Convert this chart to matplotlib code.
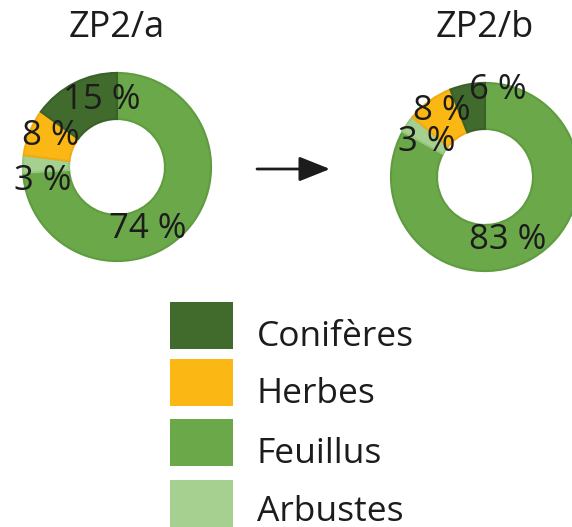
import matplotlib.pyplot as plt
from matplotlib.patches import Rectangle

plt.rcParams['font.family'] = ['Open Sans', 'DejaVu Sans']

# Share of each vegetation type, clockwise from 12 o'clock
categories = ['Feuillus', 'Arbustes', 'Herbes', 'Conifères']
values_a = [74, 3, 8, 15]
values_b = [83, 3, 8, 6]
titles = ['ZP2/a', 'ZP2/b']

legend_order = ['Conifères', 'Herbes', 'Feuillus', 'Arbustes']

colors = {'Conifères': '#416b2c', 'Herbes': '#fbb714',
          'Feuillus': '#6aa84a', 'Arbustes': '#a6d08f'}
edges = {'Conifères': '#3a6127', 'Herbes': '#f0ac10',
         'Feuillus': '#5f9c40', 'Arbustes': '#98c680'}

W, H = 572, 527
TXT = '#1c1c1c'

fig = plt.figure(figsize=(W / 100, H / 100), dpi=100)

# overlay in pixel units for arrow, legend and titles
ov = fig.add_axes([0, 0, 1, 1])
ov.set_xlim(0, W)
ov.set_ylim(H, 0)
ov.axis('off')
ov.set_zorder(3)
ov.patch.set_visible(False)


def donut(values, cx, cy, r, title, label_pos):
    ax = fig.add_axes([(cx - r) / W, 1 - (cy + r) / H, 2 * r / W, 2 * r / H])
    wedges, _ = ax.pie(values, colors=[colors[c] for c in categories],
                       startangle=90, counterclock=False, radius=1,
                       wedgeprops=dict(width=0.49, linewidth=1.5))
    for w, c in zip(wedges, categories):
        w.set_edgecolor(edges[c])
    ax.set_xlim(-1.01, 1.01)
    ax.set_ylim(-1.01, 1.01)
    ax.axis('off')
    ov.text(cx, 28, title, ha='center', va='center', fontsize=26, color=TXT)
    for v, (x, y) in zip(values, label_pos):
        ov.text(x, y, f'{v} %', ha='center', va='center', fontsize=25, color=TXT)


donut(values_a, 117, 167, 95, titles[0],
      [(148, 229), (43, 181), (51, 136), (102, 100)])
donut(values_b, 485, 177, 95, titles[1],
      [(508, 240), (427, 142), (442, 111), (498, 90)])

# arrow between the two states
ov.annotate('', xy=(330, 169), xytext=(257, 169),
            arrowprops=dict(arrowstyle='-|>,head_length=0.95,head_width=0.38',
                            mutation_scale=20, lw=2.0, color=TXT,
                            shrinkA=0, shrinkB=0))

# legend
box_tops = [302, 359, 419, 480]
for name, top in zip(legend_order, box_tops):
    ov.add_patch(Rectangle((170, top), 63, 47, facecolor=colors[name],
                           edgecolor='none'))
    ov.text(257, min(top + 44, 521), name, ha='left', va='baseline',
            fontsize=25.5, color=TXT)

fig.savefig('out.png', dpi=100)
